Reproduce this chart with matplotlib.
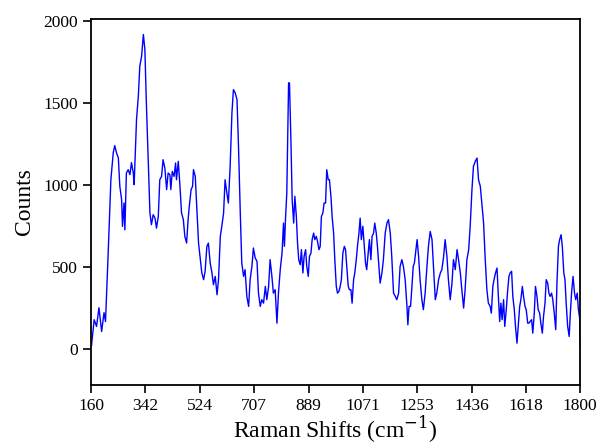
import numpy as np
import matplotlib
matplotlib.use("Agg")
import matplotlib.pyplot as plt

# Raman spectrum, values
shift = [161, 170, 178, 186, 195, 203, 208, 217, 226, 234, 239, 245, 251, 256, 262, 265,
         270, 273, 278, 284, 290, 295, 301, 304, 312, 318, 323, 329, 335, 340, 345, 351,
         357, 362, 368, 374, 379, 385, 390, 396, 401, 407, 413, 418, 424, 427, 432, 438,
         443, 446, 452, 457, 463, 469, 474, 480, 485, 489, 495, 500, 503, 509, 514, 520,
         526, 531, 537, 542, 548, 553, 559, 565, 570, 576, 582, 587, 593, 598, 604, 609,
         615, 620, 626, 632, 637, 643, 649, 654, 660, 665, 671, 676, 682, 688, 693, 699,
         704, 710, 716, 721, 727, 732, 738, 744, 749, 755, 760, 766, 771, 777, 783, 788,
         794, 800, 805, 808, 812, 816, 822, 825, 830, 834, 839, 843, 848, 852, 856, 861,
         865, 870, 874, 879, 883, 888, 892, 897, 901, 906, 910, 915, 919, 924, 928, 932,
         937, 941, 946, 950, 955, 959, 964, 968, 973, 977, 982, 986, 991, 995, 999, 1004,
         1009, 1013, 1018, 1022, 1026, 1031, 1035, 1040, 1044, 1049, 1053, 1058, 1062, 1066, 1071, 1076,
         1080, 1084, 1089, 1093, 1098, 1102, 1107, 1111, 1116, 1120, 1125, 1129, 1135, 1140, 1146, 1152,
         1157, 1163, 1168, 1174, 1180, 1185, 1191, 1196, 1202, 1207, 1213, 1219, 1222, 1226, 1231, 1235,
         1240, 1244, 1249, 1253, 1258, 1263, 1269, 1274, 1280, 1286, 1291, 1297, 1303, 1308, 1314, 1319,
         1325, 1331, 1336, 1342, 1347, 1353, 1358, 1364, 1370, 1375, 1381, 1387, 1392, 1398, 1403, 1409,
         1414, 1420, 1426, 1431, 1437, 1442, 1448, 1454, 1459, 1465, 1470, 1476, 1481, 1487, 1492, 1498,
         1502, 1507, 1511, 1516, 1521, 1525, 1530, 1534, 1538, 1543, 1547, 1552, 1556, 1561, 1565, 1570,
         1574, 1579, 1583, 1588, 1592, 1597, 1601, 1606, 1610, 1615, 1619, 1624, 1628, 1632, 1637, 1641,
         1646, 1650, 1655, 1659, 1664, 1668, 1673, 1677, 1682, 1686, 1691, 1695, 1699, 1704, 1708, 1713,
         1718, 1722, 1727, 1731, 1736, 1740, 1745, 1749, 1753, 1758, 1763, 1767, 1771, 1776, 1781, 1785,
         1790, 1794, 1799, 1800]

counts = [20, 177, 136, 250, 105, 220, 166, 585, 1030, 1195, 1238, 1193, 1163, 990, 908, 746,
          888, 725, 1071, 1091, 1061, 1134, 1073, 1000, 1396, 1538, 1721, 1782, 1915, 1823, 1498, 1152,
          827, 756, 817, 796, 735, 806, 1030, 1050, 1152, 1101, 970, 1071, 1061, 970, 1081, 1050,
          1132, 1030, 1142, 1010, 827, 787, 685, 644, 787, 868, 970, 990, 1091, 1050, 868, 644,
          543, 462, 421, 472, 624, 644, 523, 462, 390, 441, 329, 421, 685, 746, 827, 1030,
          949, 888, 1112, 1437, 1579, 1559, 1518, 1234, 827, 523, 441, 482, 319, 258, 421, 502,
          614, 553, 533, 339, 258, 299, 278, 380, 299, 380, 543, 441, 339, 360, 156, 339,
          482, 583, 766, 624, 806, 949, 1620, 1620, 1254, 908, 766, 929, 806, 644, 543, 512,
          604, 462, 563, 604, 502, 441, 563, 583, 665, 705, 665, 685, 654, 604, 624, 806,
          827, 888, 888, 1091, 1030, 1030, 929, 806, 705, 543, 380, 339, 350, 380, 421, 583,
          624, 604, 482, 380, 360, 360, 278, 421, 462, 543, 624, 705, 796, 665, 746, 624,
          523, 482, 583, 665, 543, 685, 705, 766, 705, 624, 502, 400, 462, 543, 705, 766,
          787, 705, 563, 339, 319, 299, 339, 502, 543, 502, 421, 258, 146, 258, 258, 360,
          502, 523, 604, 665, 563, 421, 299, 238, 339, 502, 624, 715, 665, 502, 299, 339,
          421, 462, 482, 563, 665, 563, 421, 299, 400, 543, 482, 604, 543, 462, 360, 248,
          360, 543, 604, 746, 970, 1112, 1142, 1162, 1030, 990, 888, 766, 563, 360, 278, 258,
          217, 380, 421, 462, 492, 339, 166, 278, 177, 299, 136, 238, 339, 441, 462, 472,
          319, 238, 136, 34, 136, 258, 299, 380, 319, 258, 238, 156, 156, 166, 177, 95,
          217, 380, 319, 238, 217, 156, 95, 197, 278, 421, 400, 339, 319, 339, 299, 217,
          116, 400, 624, 665, 695, 624, 462, 421, 278, 136, 75, 217, 339, 441, 339, 299,
          339, 238, 177, 10]

x_ticks = [160, 342, 524, 707, 889, 1071, 1253, 1436, 1618, 1800]
y_ticks = [0, 500, 1000, 1500, 2000]

plt.rcParams['font.family'] = ['Liberation Serif', 'DejaVu Serif']
plt.rcParams['mathtext.fontset'] = 'dejavuserif'

fig = plt.figure(figsize=(6, 4.47), dpi=100)
ax = fig.add_axes([0.152, 0.139, 0.815, 0.818])

ax.plot(shift, counts, color='blue', linewidth=1.0)

ax.set_xlim(160, 1800)
ax.set_ylim(-220, 2008)
ax.set_xticks(x_ticks)
ax.set_xticklabels([str(t) for t in x_ticks])
ax.set_yticks(y_ticks)
ax.tick_params(labelsize=12.5, width=1.2, length=6)
for s in ax.spines.values():
    s.set_linewidth(1.3)

ax.set_xlabel('Raman Shifts (cm$^{-1}$)', fontsize=17, labelpad=0)
ax.set_ylabel('Counts', fontsize=17, labelpad=6)

fig.savefig('out.png', dpi=100)
